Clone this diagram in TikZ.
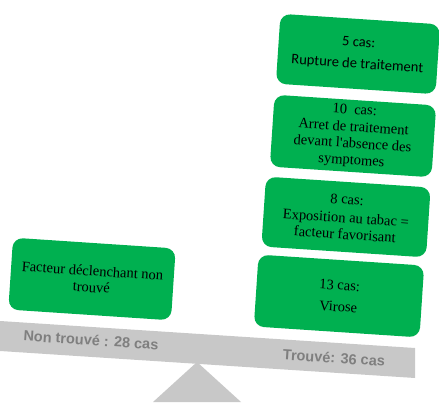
\documentclass[tikz,border=0pt]{standalone}
\usepackage{fontspec}
\setmainfont{Liberation Serif}
\setsansfont{Liberation Sans}
\newfontfamily\carlito{Carlito}
\definecolor{boxgreen}{HTML}{00B050}
\definecolor{beamgray}{HTML}{C8C8C8}
\definecolor{labelgray}{HTML}{7F7F7F}

\begin{document}
\begin{tikzpicture}[x=1pt,y=1pt,
  casebox/.style={fill=boxgreen, rounded corners=10pt, minimum width=163pt,
    minimum height=72pt, align=center, rotate=-3.8, inner sep=2pt,
    font=\fontsize{14.5}{16.5}\selectfont},
  beamlabel/.style={text=labelgray, rotate=-3.7,
    font=\sffamily\bfseries\fontsize{14.5}{16}\selectfont}]
\useasboundingbox (0,0) rectangle (439,402);
% pivot and tilted beam
\fill [beamgray] (153,0) -- (197,40) -- (241,0) -- cycle;
\fill [beamgray] (0,81) -- (415,54) -- (415,24) -- (0,51) -- cycle;
\node [beamlabel] (lblnon) at (91,62) {Non trouvé : 28 cas};
\node [beamlabel] (lbloui) at (334,44) {Trouvé: 36 cas};
% left pan
\node [casebox] (nontrouve) at (92,123) {Facteur déclenchant non\\trouvé};
% right pan, stacked from the bottom
\node [casebox, minimum width=166pt] (virose) at (339,106) {13 cas:\\[5pt]Virose};
\node [casebox, minimum width=165pt, minimum height=70pt] (tabac) at (346,185)
  {8 cas:\\[2pt]Exposition au tabac =\\facteur favorisant};
\node [casebox, minimum width=162pt] (arret) at (353,266)
  {10\ \ cas:\\[1pt]Arret de traitement\\devant l\textquotesingle absence des\\symptomes};
\node [casebox, minimum width=160pt, minimum height=70pt, font=\carlito\fontsize{14.5}{16.5}\selectfont] (rupture) at (358,348)
  {5 cas:\\[5pt]Rupture de traitement};
\end{tikzpicture}
\end{document}
